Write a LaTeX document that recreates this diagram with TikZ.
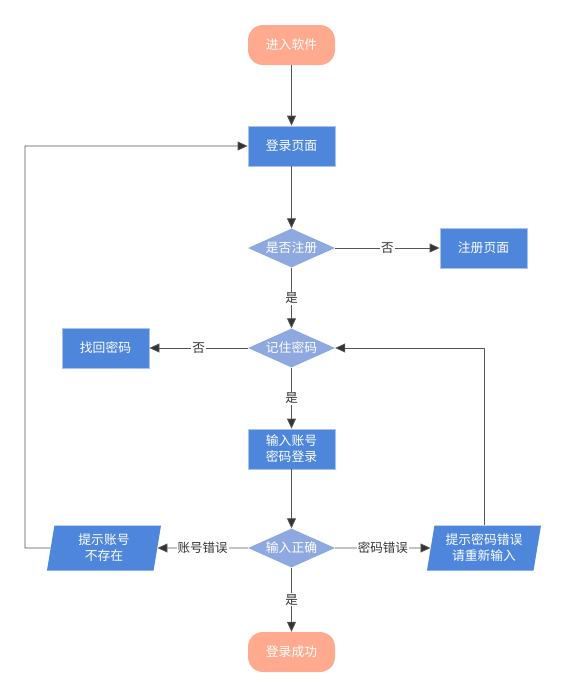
\documentclass[tikz,border=0pt]{standalone}
\usepackage{fontspec}
\setmainfont{Noto Sans CJK SC}
\usetikzlibrary{shapes.geometric,arrows.meta}
\definecolor{termc}{HTML}{FFAA8E}
\definecolor{boxc}{HTML}{4D86DA}
\definecolor{boxb}{HTML}{A8C3EC}
\definecolor{diac}{HTML}{8DA9E0}
\definecolor{linec}{HTML}{555555}
\definecolor{tipc}{HTML}{333333}
\definecolor{lblc}{HTML}{333333}
\begin{document}
\begin{tikzpicture}[x=1pt,y=-1pt,
  base/.style={inner sep=0pt,text=white,font=\fontsize{12.8}{16}\selectfont,align=center},
  term/.style={base,rectangle,rounded corners=15pt,fill=termc,minimum width=87pt,minimum height=40pt},
  procbox/.style={base,rectangle,fill=boxc,draw=boxb,line width=0.8pt,minimum width=87pt,minimum height=40pt},
  decide/.style={base,diamond,fill=diac,minimum width=87pt,minimum height=39pt,aspect=2.2},
  iobox/.style={base,trapezium,trapezium left angle=75,trapezium right angle=105,trapezium stretches body,fill=boxc,minimum width=114pt,minimum height=45pt},
  arr/.style={draw=linec,line width=0.8pt,-{Triangle[length=10pt,width=9pt,fill=tipc]}},
  lbl/.style={fill=white,inner sep=1pt,text=lblc,font=\fontsize{12.5}{15}\selectfont}
]
\useasboundingbox (0,0) rectangle (567,697);
\node[term] (start) at (291.5,45) {进入软件};
\node[procbox] (login) at (291.5,146) {登录页面};
\node[decide] (reg) at (291.5,248) {是否注册};
\node[procbox] (regpage) at (483.5,248) {注册页面};
\node[decide] (rem) at (291.5,348) {记住密码};
\node[procbox] (find) at (105.5,348) {找回密码};
\node[procbox] (input) at (291.5,449) {输入账号\\密码登录};
\node[decide] (check) at (291.5,548) {输入正确};
\node[iobox] (noacc) at (104,548) {提示账号\\不存在};
\node[iobox] (wrongpw) at (484,548) {提示密码错误\\请重新输入};
\node[term] (ok) at (291.5,652) {登录成功};
\coordinate (lx) at (25,0);

\draw[arr] (start) -- (login);
\draw[arr] (login) -- (reg);
\draw[arr] (reg) -- node[lbl]{否} (regpage);
\draw[arr] (reg) -- node[lbl]{是} (rem);
\draw[arr] (rem) -- node[lbl]{否} (find);
\draw[arr] (rem) -- node[lbl]{是} (input);
\draw[arr] (input) -- (check);
\draw[arr] (check) -- node[lbl]{账号错误} (noacc);
\draw[arr] (check) -- node[lbl]{密码错误} (wrongpw);
\draw[arr] (check) -- node[lbl]{是} (ok);
\draw[arr] (noacc) -- (noacc -| lx) |- (login);
\draw[arr] (wrongpw.north) -- (wrongpw.north |- rem) -- (rem);
\end{tikzpicture}
\end{document}
